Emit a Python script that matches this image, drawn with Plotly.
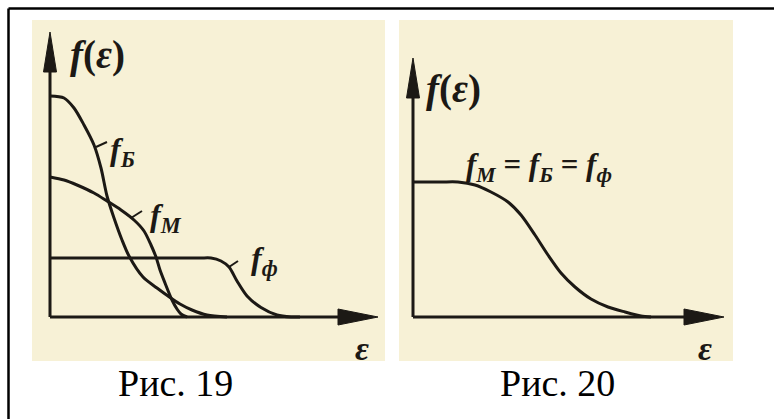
import plotly.graph_objects as go

W, H = 774, 419

# Рис. 19: three distribution functions f(ε), arbitrary units
eps_B = [0.0, 1.4, 2.4, 3.4, 4.4, 5.1, 5.7, 6.4, 7.2, 7.9, 9.3, 10.7, 11.8, 13.0, 14.2, 15.7, 17.7]
f_B = [22.1, 21.9, 20.9, 19.2, 17.2, 14.9, 12.1, 9.9, 7.7, 6.1, 4.0, 2.9, 2.1, 1.3, 0.7, 0.2, 0.0]

eps_M = [0.0, 1.4, 2.7, 4.4, 5.7, 7.1, 8.4, 9.4, 10.1, 10.6, 11.0, 11.5, 12.2, 12.7, 13.1, 13.7]
f_M = [14.0, 13.7, 13.2, 12.4, 11.6, 10.7, 9.7, 8.6, 7.2, 6.0, 4.7, 3.4, 1.7, 0.8, 0.3, 0.0]

eps_F = [0.0, 5.0, 10.0, 15.0, 16.1, 17.1, 17.9, 18.7, 19.7, 21.1, 22.7, 24.1, 25.0]
f_F = [5.9, 5.9, 5.9, 5.9, 5.9, 5.6, 5.0, 3.6, 2.1, 0.95, 0.2, 0.0, 0.0]

# Рис. 20: the common curve f_M = f_Б = f_Ф
eps_C = [0.0, 2.8, 4.5, 6.2, 7.8, 9.5, 10.8, 12.2, 13.5, 14.8, 16.2, 17.8, 19.5, 21.2, 22.8, 23.8]
f_C = [13.5, 13.5, 13.5, 13.2, 12.5, 11.5, 10.2, 8.2, 6.2, 4.4, 3.0, 1.8, 1.0, 0.5, 0.1, 0.0]

# Curve labels: (text, label ε, label f, leader start, leader end)
labels_19 = [
    ("<i>f</i><sub><i>Б</i></sub>", 7.2, 16.6, (4.6, 17.0), (5.7, 17.5)),
    ("<i>f</i><sub><i>M</i></sub>", 11.6, 10.0, (8.1, 9.9), (9.2, 10.6)),
    ("<i>f</i><sub><i>ф</i></sub>", 21.4, 5.7, (17.9, 5.0), (18.8, 5.6)),
]
label_20 = "<i>f</i><sub><i>M</i></sub> = <i>f</i><sub><i>Б</i></sub> = <i>f</i><sub><i>ф</i></sub>"
captions = ["Рис. 19", "Рис. 20"]

# Axis extents (tips of the arrows) for each figure
axes_19 = dict(x_tip=32.8, y_tip=28.5)
axes_20 = dict(x_tip=31.1, y_tip=25.9)

INK = "#1c1915"
PAPER = "#f7f1d6"
LW = 3
SERIF = "Liberation Serif"

fig = go.Figure()


def curve(x, y, xa, ya):
    fig.add_trace(go.Scatter(
        x=x, y=y, xaxis=xa, yaxis=ya, mode="lines",
        line=dict(color=INK, width=LW, shape="spline", smoothing=0.8),
        hoverinfo="skip", showlegend=False))


def seg(x, y, xa, ya, width=LW):
    fig.add_trace(go.Scatter(
        x=x, y=y, xaxis=xa, yaxis=ya, mode="lines",
        line=dict(color=INK, width=width),
        hoverinfo="skip", showlegend=False))


def arrow_head(x, y, xa, ya):
    fig.add_trace(go.Scatter(
        x=x, y=y, xaxis=xa, yaxis=ya, mode="lines", fill="toself",
        fillcolor=INK, line=dict(color=INK, width=1),
        hoverinfo="skip", showlegend=False))


def coord_axes(ax, xa, ya):
    xt, yt = ax["x_tip"], ax["y_tip"]
    seg([0, 0], [0, yt - 2.0], xa, ya)
    seg([0, xt - 2.0], [0, 0], xa, ya)
    arrow_head([-0.65, 0, 0.65, -0.65], [yt - 4.0, yt, yt - 4.0, yt - 4.0], xa, ya)
    arrow_head([xt - 4.0, xt, xt - 4.0, xt - 4.0], [-0.8, 0, 0.8, -0.8], xa, ya)


# Рис. 19
coord_axes(axes_19, "x", "y")
curve(eps_B, f_B, "x", "y")
curve(eps_M, f_M, "x", "y")
curve(eps_F, f_F, "x", "y")
for _, _, _, p0, p1 in labels_19:
    seg([p0[0], p1[0]], [p0[1], p1[1]], "x", "y", width=2)

# Рис. 20
coord_axes(axes_20, "x2", "y2")
curve(eps_C, f_C, "x2", "y2")

ann = []
for text, lx, ly, _, _ in labels_19:
    ann.append(dict(x=lx, y=ly, xref="x", yref="y", text=text, showarrow=False,
                    font=dict(family=SERIF, size=32, color=INK, weight="bold")))
ann.append(dict(x=12.6, y=15.0, xref="x2", yref="y2", text=label_20, showarrow=False,
                font=dict(family=SERIF, size=31, color=INK, weight="bold")))
for xa, ya, fx, fy, ex in (("x", "y", 4.7, 26.2, 31.2), ("x2", "y2", 4.0, 22.85, 29.2)):
    ann.append(dict(x=fx, y=fy, xref=xa, yref=ya, text="<i>f</i>(<i>ε</i>)", showarrow=False,
                    font=dict(family=SERIF, size=39, color=INK, weight="bold")))
    ann.append(dict(x=ex, y=-3.1, xref=xa, yref=ya, text="<i>ε</i>", showarrow=False,
                    font=dict(family=SERIF, size=34, color=INK, weight="bold")))
for cx, txt in zip((175, 557), captions):
    ann.append(dict(x=cx / W, y=1 - 383 / H, xref="paper", yref="paper", text=txt,
                    xanchor="center", yanchor="middle",
                    showarrow=False, font=dict(family=SERIF, size=38, color="black")))

# Outer frame: only its top and left edges fall inside the page
frame_x = 8.5 / W
frame_y = 1 - 8.5 / H
frame = [
    dict(type="line", xref="paper", yref="paper", x0=frame_x, x1=frame_x, y0=0, y1=frame_y,
         line=dict(color="black", width=2.5)),
    dict(type="line", xref="paper", yref="paper", x0=frame_x, x1=1, y0=frame_y, y1=frame_y,
         line=dict(color="black", width=2.5)),
]


# Panels in pixels: left 32..385, right 399..733, rows 20..361
def ax_x(x0, x1, rng, anchor):
    return dict(domain=[x0 / W, x1 / W], range=rng, visible=False, fixedrange=True, anchor=anchor)


def ax_y(rng, anchor):
    return dict(domain=[1 - 361 / H, 1 - 20 / H], range=rng, visible=False, fixedrange=True, anchor=anchor)


fig.update_layout(
    width=W, height=H, margin=dict(l=0, r=0, t=0, b=0),
    paper_bgcolor="white", plot_bgcolor=PAPER, showlegend=False,
    xaxis=ax_x(32, 385, [-1.8, 33.5], "y"),
    yaxis=ax_y([-4.4, 29.7], "x"),
    xaxis2=ax_x(399, 733, [-1.4, 32.0], "y2"),
    yaxis2=ax_y([-4.4, 29.7], "x2"),
    annotations=ann, shapes=frame,
)

fig.write_html("out.html", config={"displayModeBar": False})
